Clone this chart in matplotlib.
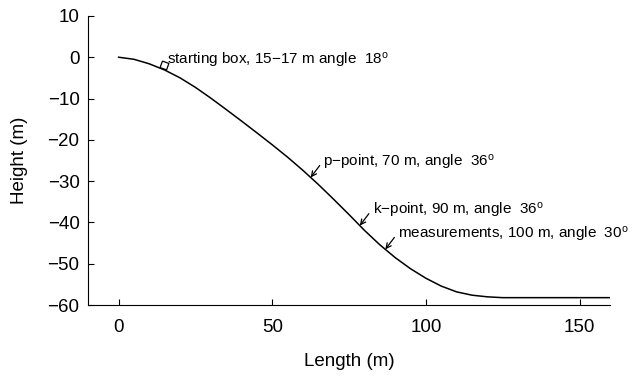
import numpy as np
import matplotlib
matplotlib.use('Agg')
import matplotlib.pyplot as plt
from matplotlib.markers import MarkerStyle

plt.rcParams['font.family'] = ['Liberation Sans', 'DejaVu Sans']
plt.rcParams['mathtext.fontset'] = 'custom'
plt.rcParams['mathtext.rm'] = 'Liberation Sans'
plt.rcParams['mathtext.it'] = 'Liberation Sans'

# hill profile (m)
length = [0, 5, 10, 15, 20, 25, 30, 35, 40, 45, 50, 55, 60, 65, 70, 75, 80,
          85, 90, 95, 100, 105, 110, 115, 120, 125, 160]
height = [0, -0.5, -1.6, -3.1, -5.0, -7.3, -9.9, -12.65, -15.45, -18.3, -21.2,
          -24.2, -27.4, -30.8, -34.4, -38.1, -41.9, -45.4, -48.5, -51.2,
          -53.5, -55.4, -56.8, -57.6, -58.0, -58.2, -58.2]

labels = ['p\u2212point, 70 m, angle  36$^o$',
          'k\u2212point, 90 m, angle  36$^o$',
          'measurements, 100 m, angle  30$^o$']
label_x = [62.5, 78.5, 86.8]

fig = plt.figure(figsize=(6.37, 3.79), dpi=100)
ax = fig.add_axes([0.138, 0.195, 0.82, 0.763])
ax.plot(length, height, color='black', lw=1.1)

# starting box
ax.plot(14.9, -1.9, marker=MarkerStyle((4, 0, 25)), ms=7, mfc='white',
        mec='black', mew=0.9)
ax.text(15.9, -0.9, 'starting box, 15\u221217 m angle  18$^o$',
        fontsize=11, va='center', ha='left')

for lab, xl in zip(labels, label_x):
    yl = np.interp(xl, length, height)
    ax.annotate('', xy=(xl, yl), xytext=(6.5, 8.6), textcoords='offset points',
                arrowprops=dict(arrowstyle='->', lw=0.9, color='black',
                                shrinkA=0, shrinkB=0, mutation_scale=9))
    ax.annotate(lab, xy=(xl, yl), xytext=(9.2, 11.0),
                textcoords='offset points', fontsize=11, va='center',
                ha='left')

ax.set_xlim(-10, 160)
ax.set_ylim(-60, 10)
ax.set_xticks([0, 50, 100, 150])
ax.set_yticks(range(-60, 11, 10))
ax.set_yticklabels(['\u221260', '\u221250', '\u221240', '\u221230', '\u221220',
                    '\u221210', '0', '10'])
ax.tick_params(direction='in', labelsize=13.5, length=4, pad=6)
ax.tick_params(axis='x', pad=10)
for s in ['top', 'right']:
    ax.spines[s].set_visible(False)
ax.set_xlabel('Length (m)', fontsize=13.5, labelpad=12)
ax.set_ylabel('Height (m)', fontsize=13.5, labelpad=14)

fig.savefig('out.png', dpi=100)
